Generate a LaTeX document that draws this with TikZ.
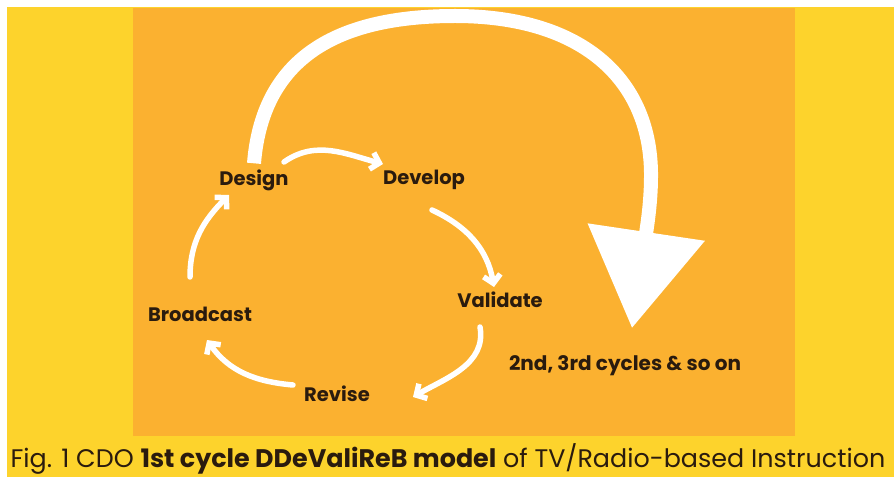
\documentclass[tikz,border=0pt]{standalone}
\usepackage{fontspec}
\setmainfont{Poppins}
\usetikzlibrary{arrows.meta,calc}
\definecolor{bgyellow}{RGB}{253,211,44}
\definecolor{panelorange}{RGB}{251,177,48}
\definecolor{ink}{RGB}{42,27,14}
\begin{document}
\begin{tikzpicture}[x=1pt,y=1pt,
  lbl/.style={text=ink,font=\bfseries\fontsize{19.5}{19.5}\selectfont,inner sep=0pt},
  cyc/.style={draw=white,line width=5.5pt,line cap=round,
    -{Straight Barb[length=8pt,width=17pt]}},
  big/.style={draw=white,line width=14pt,
    -{Triangle[length=97pt,width=115pt]}}]
\useasboundingbox (0,0) rectangle (894,477);
\fill[bgyellow] (0,0) rectangle (894,477);
\fill[white] (0,470) rectangle (894,477);
\fill[white] (0,0) rectangle (7,477);
\fill[panelorange] (133,41) rectangle (795,469);
% nodes
\node[lbl] (Design) at (254,297) {Design};
\node[lbl] (Develop) at (424,297) {Develop};
\node[lbl] (Validate) at (500,177) {Validate};
\node[lbl] (Broadcast) at (200,163) {Broadcast};
\node[lbl] (Revise) at (337,83) {Revise};
\node[lbl,font=\bfseries\fontsize{20}{20}\selectfont] (next) at (625,111) {2nd, 3rd cycles \& so on};
\coordinate (bigend) at (632,149);
% big arrow
\draw[big] ($(Design.north)+(0,6)$) .. controls (263,425) and (345,461) .. (455,461)
  .. controls (585,461) and (652,395) .. (651,300)
  .. controls (651,275) and (647,250) .. (bigend);
% cycle arrows
\draw[cyc] ($(Design)+(30,18)$) to[out=35,in=165] ($(Develop)+(-41,16)$);
\draw[cyc] ($(Develop)+(8,-30)$) to[out=-25,in=100] ($(Validate)+(-6,13)$);
\draw[cyc] ($(Validate)+(-20,-27)$) to[out=-80,in=30] ($(Revise)+(76,-3)$);
\draw[cyc] ($(Revise)+(-44,9)$) to[out=175,in=-55] ($(Broadcast)+(7,-26)$);
\draw[cyc] ($(Broadcast)+(-10,37)$) to[out=90,in=-135] ($(Design)+(-25,-15)$);
% caption
\node[text=ink,font=\fontsize{25.4}{25.4}\selectfont,inner sep=0pt] (caption) at (448,18)
  {Fig. 1 CDO \textbf{1st cycle DDeValiReB model} of TV/Radio-based Instruction};
\end{tikzpicture}
\end{document}
